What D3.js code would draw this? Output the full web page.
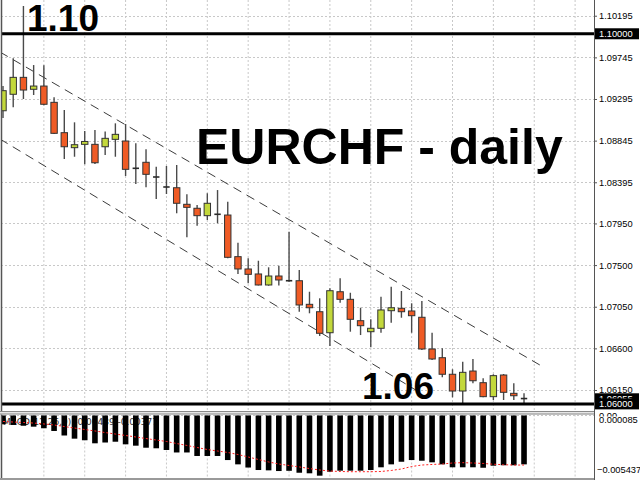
<!DOCTYPE html>
<html>
<head>
<meta charset="utf-8">
<script src="https://cdn.jsdelivr.net/npm/d3@7"></script>
<style>
  html, body { margin: 0; padding: 0; background: #fff; }
  svg { display: block; }
</style>
</head>
<body>
<svg id="chart" width="640" height="480"></svg>
<script>
// ---- daily EURCHF bars (oldest first) ----
const open  = [1.09168,1.09346,1.09529,1.09400,1.09435,1.09259,1.08931,1.08769,1.08805,1.08805,
               1.08779,1.08859,1.08841,1.08546,1.08611,1.08452,1.08344,1.08336,1.08157,1.08114,
               1.08034,1.08049,1.08041,1.07591,1.07458,1.07404,1.07285,1.07382,1.07331,1.07331,
               1.07076,1.06996,1.06769,1.07212,1.07130,1.06899,1.06780,1.06817,1.07007,1.07033,
               1.07004,1.06936,1.06593,1.06499,1.06320,1.06139,1.06355,1.06229,1.06078,1.06312,
               1.06114,1.06060];
const high  = [1.09435,1.09735,1.10300,1.09662,1.09659,1.09313,1.09176,1.09043,1.08949,1.08960,
               1.08944,1.09032,1.09025,1.08816,1.08751,1.08563,1.08571,1.08582,1.08265,1.08149,
               1.08276,1.08311,1.08185,1.07742,1.07573,1.07547,1.07476,1.07493,1.07861,1.07447,
               1.07212,1.07141,1.07249,1.07357,1.07201,1.07039,1.06914,1.07158,1.07266,1.07220,
               1.07087,1.07112,1.06769,1.06601,1.06374,1.06456,1.06485,1.06276,1.06320,1.06323,
               1.06222,1.06114];
const low   = [1.09089,1.09205,1.09295,1.09338,1.09227,1.08917,1.08646,1.08671,1.08589,1.08592,
               1.08690,1.08671,1.08463,1.08376,1.08341,1.08214,1.08268,1.08060,1.07800,1.07926,
               1.07987,1.07952,1.07573,1.07404,1.07303,1.07280,1.07277,1.07280,1.07320,1.06996,
               1.06979,1.06734,1.06626,1.07093,1.06780,1.06744,1.06611,1.06769,1.06877,1.06931,
               1.06769,1.06582,1.06474,1.06287,1.06071,1.06009,1.06222,1.06071,1.06042,1.06042,
               1.06042,1.06006];
const close = [1.09385,1.09529,1.09392,1.09435,1.09238,1.08924,1.08779,1.08801,1.08836,1.08606,
               1.08870,1.08913,1.08535,1.08546,1.08481,1.08452,1.08344,1.08168,1.08124,1.08034,
               1.08168,1.08049,1.07584,1.07458,1.07400,1.07285,1.07382,1.07339,1.07331,1.07069,
               1.07039,1.06763,1.07223,1.07130,1.06914,1.06845,1.06817,1.07015,1.07039,1.06996,
               1.06953,1.06593,1.06485,1.06320,1.06139,1.06341,1.06250,1.06078,1.06305,1.06125,
               1.06088,1.06055];

// ---- MACD(12,26,9): main histogram and signal ----
const macdMain = [-0.00078,-0.00084,-0.00091,-0.00099,-0.00113,-0.00137,-0.00177,-0.00205,-0.00219,-0.00246,
                  -0.00239,-0.00232,-0.00255,-0.00267,-0.00285,-0.00290,-0.00305,-0.00327,-0.00327,-0.00358,
                  -0.00358,-0.00358,-0.00394,-0.00432,-0.00460,-0.00482,-0.00485,-0.00491,-0.00489,-0.00506,
                  -0.00511,-0.00532,-0.00497,-0.00488,-0.00488,-0.00488,-0.00482,-0.00458,-0.00432,-0.00409,
                  -0.00394,-0.00400,-0.00414,-0.00432,-0.00458,-0.00458,-0.00458,-0.00462,-0.00444,-0.00440,
                  -0.00440,-0.00432];
const macdSignal = [-0.00053,-0.00058,-0.00062,-0.00067,-0.00075,-0.00084,-0.00098,-0.00111,-0.00124,-0.00137,
                    -0.00151,-0.00164,-0.00177,-0.00190,-0.00204,-0.00217,-0.00230,-0.00248,-0.00265,-0.00283,
                    -0.00301,-0.00314,-0.00327,-0.00345,-0.00367,-0.00389,-0.00411,-0.00429,-0.00442,-0.00455,
                    -0.00469,-0.00482,-0.00491,-0.00495,-0.00497,-0.00497,-0.00497,-0.00495,-0.00486,-0.00473,
                    -0.00451,-0.00438,-0.00433,-0.00429,-0.00420,-0.00417,-0.00420,-0.00424,-0.00431,-0.00435,
                    -0.00438,-0.00438];

// ---- axis labels / levels ----
const priceTicks = [1.10195,1.09745,1.09295,1.08845,1.08395,1.07950,1.07500,1.07050,1.06600,1.06150];
const macdTicks  = [0.000085,-0.005437];
const levels     = [1.10000, 1.06000];
const lastPrice  = 1.06055;
const levelTexts = ["1.10", "1.06"];
const title      = "EURCHF - daily";
const macdLabel  = "MACD(12,26,9) -0.00489 -0.00377";

// channel trend lines: [bar index, price] end points
const channelUpper = [[-0.3, 1.09803], [53.05, 1.06388]];
const channelLower = [[-0.3, 1.08863], [41.0, 1.06110]];

// ---- layout ----
const W = 640, H = 480;
const plotL = 1, plotR = 594;
const mainTop = 0, mainBot = 411;
const subTop = 414.5, subBot = 477;

const svg = d3.select("#chart");
svg.append("rect").attr("width", W).attr("height", H).attr("fill", "#fff");

const n = open.length;
const x = d3.scaleLinear().domain([0, 56]).range([3, 575.1]);
const y = d3.scaleLinear().domain([1.05923, 1.10365]).range([mainBot, mainTop]);
const ym = d3.scaleLinear().domain([-0.005437, 0.000085]).range([subBot, subTop]);

const gridColor = "#c8c8c8";
const gridDash = "2,2";

// panel clips
svg.append("clipPath").attr("id", "clipMain")
  .append("rect").attr("x", plotL).attr("y", mainTop).attr("width", plotR - plotL).attr("height", mainBot - mainTop);
svg.append("clipPath").attr("id", "clipSub")
  .append("rect").attr("x", plotL).attr("y", subTop).attr("width", plotR - plotL).attr("height", subBot - subTop);

const main = svg.append("g").attr("clip-path", "url(#clipMain)");
const sub = svg.append("g").attr("clip-path", "url(#clipSub)");

// grid: vertical every 4 bars, horizontal on price ticks
const vGrid = d3.range(4, 57, 4);
main.selectAll("line.vg").data(vGrid).join("line")
  .attr("x1", d => x(d)).attr("x2", d => x(d))
  .attr("y1", mainTop).attr("y2", mainBot)
  .attr("stroke", gridColor).attr("stroke-dasharray", gridDash);
main.selectAll("line.hg").data(priceTicks).join("line")
  .attr("x1", plotL).attr("x2", plotR)
  .attr("y1", d => Math.round(y(d)) + 0.5).attr("y2", d => Math.round(y(d)) + 0.5)
  .attr("stroke", gridColor).attr("stroke-dasharray", gridDash);
sub.selectAll("line.vg").data(vGrid).join("line")
  .attr("x1", d => x(d)).attr("x2", d => x(d))
  .attr("y1", subTop).attr("y2", subBot)
  .attr("stroke", gridColor).attr("stroke-dasharray", gridDash);
sub.append("line")
  .attr("x1", plotL).attr("x2", plotR)
  .attr("y1", Math.round(ym(0)) + 0.5).attr("y2", Math.round(ym(0)) + 0.5)
  .attr("stroke", gridColor).attr("stroke-dasharray", gridDash);

// channel lines
const trend = d3.line().x(d => x(d[0])).y(d => y(d[1]));
[channelUpper, channelLower].forEach(pts => {
  main.append("path").attr("d", trend(pts))
    .attr("fill", "none").attr("stroke", "#3c3c3c").attr("stroke-width", 1)
    .attr("stroke-dasharray", "9,6");
});

// candles
const bullFill = "#c3d83b", bearFill = "#ef5b25";
const bw = 6.4;
const candles = main.selectAll("g.candle").data(d3.range(n)).join("g");
candles.append("line")
  .attr("x1", i => x(i)).attr("x2", i => x(i))
  .attr("y1", i => y(high[i])).attr("y2", i => y(low[i]))
  .attr("stroke", "#4a4a4a").attr("stroke-width", 1.4);
candles.each(function(i) {
  const g = d3.select(this);
  const top = y(Math.max(open[i], close[i]));
  const bot = y(Math.min(open[i], close[i]));
  if (bot - top < 1.6) {
    g.append("line")
      .attr("x1", x(i) - bw / 2).attr("x2", x(i) + bw / 2)
      .attr("y1", (top + bot) / 2).attr("y2", (top + bot) / 2)
      .attr("stroke", "#2a2a2a").attr("stroke-width", 1.6);
  } else {
    g.append("rect")
      .attr("x", x(i) - bw / 2).attr("width", bw)
      .attr("y", top).attr("height", bot - top)
      .attr("fill", close[i] >= open[i] ? bullFill : bearFill)
      .attr("stroke", "#333").attr("stroke-width", 1);
  }
});

// horizontal level lines
main.selectAll("line.lvl").data(levels).join("line")
  .attr("x1", plotL).attr("x2", plotR)
  .attr("y1", d => y(d)).attr("y2", d => y(d))
  .attr("stroke", "#000").attr("stroke-width", 3);

// big annotations
const bold = "'Liberation Sans', Arial, sans-serif";
svg.append("text").attr("x", 27).attr("y", y(levels[0]) - 2.5)
  .attr("font-family", bold).attr("font-weight", "bold").attr("font-size", 37)
  .attr("fill", "#000").text(levelTexts[0]);
svg.append("text").attr("x", 362).attr("y", y(levels[1]) - 5)
  .attr("font-family", bold).attr("font-weight", "bold").attr("font-size", 37)
  .attr("fill", "#000").text(levelTexts[1]);
svg.append("text").attr("x", 196).attr("y", 164)
  .attr("font-family", bold).attr("font-weight", "bold").attr("font-size", 50)
  .attr("fill", "#000").text(title);

// MACD label (drawn under the bars)
sub.append("text").attr("x", 3).attr("y", 425)
  .attr("font-family", "'DejaVu Sans', sans-serif").attr("font-size", 9)
  .attr("fill", "#333").text(macdLabel);

// MACD histogram
const mw = 5.6;
sub.selectAll("rect.h").data(d3.range(n)).join("rect")
  .attr("x", i => x(i) - mw / 2).attr("width", mw)
  .attr("y", i => ym(Math.max(0, macdMain[i])))
  .attr("height", i => Math.abs(ym(macdMain[i]) - ym(0)))
  .attr("fill", "#000");

// MACD signal
sub.append("path")
  .attr("d", d3.line().x((d, i) => x(i)).y(d => ym(d))(macdSignal))
  .attr("fill", "none").attr("stroke", "#ff2020").attr("stroke-width", 1)
  .attr("stroke-dasharray", "2,2");

// panel borders and separator
svg.append("line").attr("x1", 1.5).attr("x2", 1.5).attr("y1", 0).attr("y2", H)
  .attr("stroke", "#555").attr("stroke-width", 1.5);
svg.append("rect").attr("x", 0).attr("y", mainBot).attr("width", plotR).attr("height", subTop - mainBot)
  .attr("fill", "#e6e6e6");
svg.append("line").attr("x1", 0).attr("x2", plotR).attr("y1", mainBot + 0.5).attr("y2", mainBot + 0.5)
  .attr("stroke", "#8a8a8a");
svg.append("line").attr("x1", 0).attr("x2", plotR).attr("y1", subTop - 0.5).attr("y2", subTop - 0.5)
  .attr("stroke", "#8a8a8a");
svg.append("rect").attr("x", 0).attr("y", 478).attr("width", plotR).attr("height", 2)
  .attr("fill", "#9a9a9a");

// right price axis
const axisFont = "'Liberation Sans', Arial, sans-serif";
const axisG = svg.append("g").attr("transform", `translate(${plotR},0)`);
axisG.call(d3.axisRight(y).tickValues(priceTicks).tickFormat(d3.format(".5f")).tickSize(3).tickPadding(2))
  .call(g => g.select(".domain").remove())
  .call(g => g.selectAll("text").attr("font-family", axisFont).attr("font-size", 9.3).attr("fill", "#000"))
  .call(g => g.selectAll("line").attr("stroke", "#555"));

const subAxis = svg.append("g").attr("transform", `translate(${plotR},0)`);
subAxis.append("text").attr("x", 5).attr("y", ym(0) + 1)
  .attr("font-family", axisFont).attr("font-size", 9.3).attr("fill", "#000")
  .attr("dominant-baseline", "middle").text("0.00");
subAxis.append("rect").attr("x", 4).attr("y", 416.5).attr("width", 40).attr("height", 8).attr("fill", "#fff");
subAxis.append("text").attr("x", 5).attr("y", 421)
  .attr("font-family", axisFont).attr("font-size", 9.3).attr("fill", "#000")
  .attr("dominant-baseline", "middle").text(d3.format(".6f")(macdTicks[0]));
subAxis.append("text").attr("x", 3).attr("y", 471)
  .attr("font-family", axisFont).attr("font-size", 9.3).attr("fill", "#000")
  .attr("dominant-baseline", "middle").text(d3.format(".6f")(macdTicks[1]));

svg.append("line").attr("x1", plotR + 0.5).attr("x2", plotR + 0.5).attr("y1", 0).attr("y2", H)
  .attr("stroke", "#555");

// price label boxes on the axis (last price underneath the level boxes)
const boxes = [lastPrice, levels[1], levels[0]];
boxes.forEach(p => {
  const cy = y(p);
  svg.append("rect").attr("x", plotR + 1).attr("y", cy - 5.5).attr("width", 44).attr("height", 11)
    .attr("fill", "#000");
  svg.append("text").attr("x", plotR + 5).attr("y", cy + 0.5)
    .attr("font-family", axisFont).attr("font-size", 9.3).attr("fill", "#fff")
    .attr("dominant-baseline", "middle").text(d3.format(".5f")(p));
});
</script>
</body>
</html>
